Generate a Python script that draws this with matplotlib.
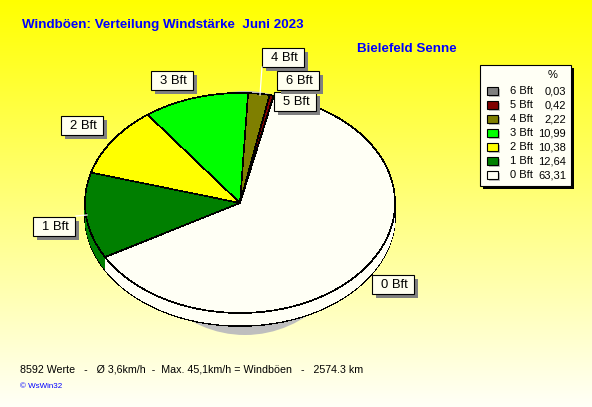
# -*- coding: utf-8 -*-
import numpy as np
import matplotlib
matplotlib.use('Agg')
import matplotlib.pyplot as plt
from matplotlib.patches import Ellipse, Rectangle

plt.rcParams['font.family'] = ['Liberation Sans', 'DejaVu Sans']

# Werte aus der Legende
labels = ['0 Bft', '1 Bft', '2 Bft', '3 Bft', '4 Bft', '5 Bft', '6 Bft']
werte = [63.31, 12.64, 10.38, 10.99, 2.22, 0.42, 0.03]
werte_txt = ['63,31', '12,64', '10,38', '10,99', '2,22', '0,42', '0,03']
farben = ['#FFFFF5', '#007F00', '#FFFF00', '#00FF00', '#7F7F00', '#7F0000', '#7F7F7F']

# Position der Beschriftungen (Pixel: links, oben)
boxen = {'0 Bft': (372, 275), '1 Bft': (33, 217), '2 Bft': (61, 116), '3 Bft': (151, 71),
         '4 Bft': (262, 48), '5 Bft': (274, 92), '6 Bft': (277, 71)}

B, H = 592, 407
cx, cy, rx, ry = 240, 203, 155, 110
tiefe = 13
start = 77.4

fig = plt.figure(figsize=(B / 100, H / 100), dpi=100)

# Hintergrund mit Farbverlauf, Koordinaten in Pixeln
bg = fig.add_axes([0, 0, 1, 1], zorder=0)
bg.set_xlim(0, B)
bg.set_ylim(H, 0)
bg.axis('off')
verlauf = np.ones((H, 1, 3))
verlauf[:, 0, 2] = np.linspace(0, 0.97, H)
bg.imshow(verlauf, extent=[0, B, H, 0], aspect='auto')
bg.add_patch(Ellipse((245, 213), 230, 244, fc='#BEBEBE', ec='none'))

# Kreis: mehrfach versetzt zeichnen ergibt die Tiefe
ax = fig.add_axes([(cx - rx) / B, 1 - (cy + ry + tiefe) / H, 2 * rx / B, (2 * ry + tiefe) / H], zorder=1)
for off in range(tiefe, -1, -1):
    rand = 'black' if off in (tiefe, 0) else 'none'
    w, _ = ax.pie(werte, colors=farben, startangle=start, counterclock=False, radius=1,
                  center=(0, -off / ry), frame=False,
                  wedgeprops={'linewidth': 0.45, 'edgecolor': rand, 'antialiased': False})
ax.set_aspect('auto')
ax.set_xlim(-1, 1)
ax.set_ylim(-1 - tiefe / ry, 1)
ax.axis('off')

# Obere Ebene: Texte, Kaesten, Legende
top = fig.add_axes([0, 0, 1, 1], zorder=2)
top.set_xlim(0, B)
top.set_ylim(H, 0)
top.axis('off')
top.patch.set_alpha(0)

top.plot([262, 260], [67, 95], color='white', lw=0.9)
top.plot([76, 87], [216, 215], color='white', lw=0.9)

for name, (x, y) in boxen.items():
    top.add_patch(Rectangle((x + 4, y + 4), 42, 19, fc='#808080', ec='none'))
    top.add_patch(Rectangle((x, y), 42, 19, fc='#FFFFF0', ec='black', lw=0.8))
    top.text(x + 22, y + 10, name, ha='center', va='center', fontsize=9.4, color='black')

top.text(22, 25, 'Windböen: Verteilung Windstärke  Juni 2023', color='#0000FF', fontsize=9.6,
         fontweight='bold', va='center')
top.text(357, 49, 'Bielefeld Senne', color='#0000FF', fontsize=9.6, fontweight='bold', va='center')
top.text(20, 369, '8592 Werte   -   Ø 3,6km/h  -  Max. 45,1km/h = Windböen   -   2574.3 km',
         fontsize=7.65, color='black', va='center')
top.text(20, 386, '© WsWin32', fontsize=5.8, color='#0000FF', va='center')

# Legende
top.add_patch(Rectangle((483, 68), 91, 121, fc='black', ec='none'))
top.add_patch(Rectangle((480, 65), 91, 121, fc='#FFFFF5', ec='black', lw=0.8))
top.text(553, 75, '%', fontsize=8, ha='center', va='center')
for i in range(len(labels) - 1, -1, -1):
    y = 175 - 14 * i
    top.add_patch(Rectangle((489, y - 2), 11, 8, fc='#BEBEBE', ec='none'))
    top.add_patch(Rectangle((487, y - 4), 11, 8, fc=farben[i], ec='black', lw=0.8))
    top.text(510, y, labels[i], fontsize=8, va='center')
    top.text(566, y, werte_txt[i], fontsize=8, va='center', ha='right')

fig.savefig('out.png', dpi=100)
